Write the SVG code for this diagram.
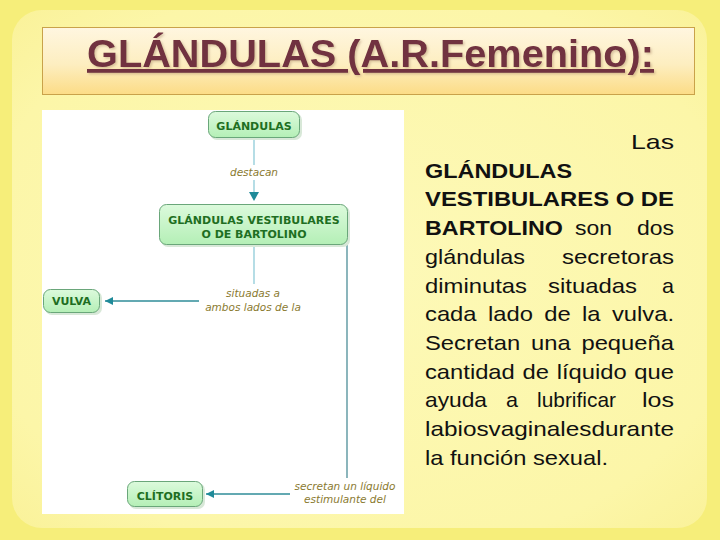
<svg xmlns="http://www.w3.org/2000/svg" width="720" height="540" viewBox="0 0 720 540">
  <defs>
    <linearGradient id="titleGrad" x1="0" y1="0" x2="0" y2="1">
      <stop offset="0" stop-color="#fff6e0"/>
      <stop offset="0.55" stop-color="#fdeec0"/>
      <stop offset="1" stop-color="#fcdc86"/>
    </linearGradient>
    <radialGradient id="panelGrad" cx="0.5" cy="0.5" r="0.7">
      <stop offset="0" stop-color="#fdf9b8"/>
      <stop offset="0.8" stop-color="#fcf6a8"/>
      <stop offset="1" stop-color="#faf29a"/>
    </radialGradient>
    <linearGradient id="nodeGrad" x1="0" y1="0" x2="0" y2="1">
      <stop offset="0" stop-color="#dcfadc"/>
      <stop offset="1" stop-color="#b4efb6"/>
    </linearGradient>
    <filter id="tshadow" x="-5%" y="-20%" width="110%" height="140%">
      <feDropShadow dx="1.5" dy="1.5" stdDeviation="0.8" flood-color="#b09070" flood-opacity="0.5"/>
    </filter>
    <marker id="arr" viewBox="0 0 10 10" refX="10" refY="5" markerWidth="8" markerHeight="8" markerUnits="userSpaceOnUse" orient="auto">
      <path d="M0,0 L10,5 L0,10 z" fill="#1f8a99"/>
    </marker>
    <style>
      .node rect { fill: url(#nodeGrad); stroke: #6aa67a; stroke-width: 1; }
      .node rect.shadow { fill: #d8e8d8; stroke: none; }
      .ntext { font-family: "DejaVu Sans", Verdana, sans-serif; font-weight: bold; font-size: 11px; fill: #1e6e22; text-anchor: middle; }
      .lbl { font-family: "DejaVu Sans", Verdana, sans-serif; font-style: italic; font-size: 10.5px; fill: #8a7a30; text-anchor: middle; }
      .lineLight { stroke: #8ecbd8; stroke-width: 1.3; fill: none; }
      .lineDark { stroke: #2f8c98; stroke-width: 1.3; fill: none; }
      .lineGray { stroke: #4e8e98; stroke-width: 1.3; fill: none; }
      .body { font-family: "Liberation Sans", Arial, sans-serif; font-size: 21px; fill: #111; }
      .b { font-weight: bold; }
    </style>
  </defs>

  <!-- background -->
  <rect x="0" y="0" width="720" height="540" fill="#f6ee7a"/>
  <rect x="12" y="10" width="695" height="518" rx="30" ry="30" fill="url(#panelGrad)"/>

  <!-- title -->
  <g id="title">
    <rect x="42.5" y="27.5" width="652" height="67" fill="url(#titleGrad)" stroke="#c9a24a" stroke-width="1"/>
    <text x="87" y="67" font-family="'Liberation Sans', Arial, sans-serif" font-weight="bold" font-size="38" fill="#71303f" text-decoration="underline" textLength="567" lengthAdjust="spacingAndGlyphs" filter="url(#tshadow)">GLÁNDULAS (A.R.Femenino):</text>
  </g>

  <!-- concept map panel -->
  <rect x="42" y="110" width="362" height="404" fill="#ffffff"/>

  <g id="connectors">
    <line class="lineLight" x1="254" y1="138" x2="254" y2="165"/>
    <line class="lineLight" x1="254" y1="180" x2="254" y2="192"/>
    <path d="M249,192 L259,192 L254,201 z" fill="#1f8a99"/>
    <line class="lineLight" x1="254" y1="245" x2="254" y2="284"/>
    <line class="lineDark" x1="199" y1="301" x2="105" y2="301" marker-end="url(#arr)"/>
    <line class="lineGray" x1="347" y1="245" x2="347" y2="478"/>
    <line class="lineDark" x1="290" y1="494" x2="206" y2="494" marker-end="url(#arr)"/>
    <text class="lbl" x="254" y="176">destacan</text>
    <text class="lbl" x="253" y="297">situadas a</text>
    <text class="lbl" x="253" y="311">ambos lados de la</text>
    <text class="lbl" x="345" y="490">secretan un líquido</text>
    <text class="lbl" x="345" y="503">estimulante del</text>
  </g>

  <g id="n-glandulas" class="node">
    <rect class="shadow" x="210" y="113" width="92" height="27" rx="7"/>
    <rect x="208.5" y="111.5" width="91" height="26" rx="7"/>
    <text class="ntext" x="254" y="130">GLÁNDULAS</text>
  </g>

  <g id="n-vestibulares" class="node">
    <rect class="shadow" x="161" y="206" width="189" height="41" rx="7"/>
    <rect x="159.5" y="204.5" width="188" height="40" rx="7"/>
    <text class="ntext" x="254" y="224">GLÁNDULAS VESTIBULARES</text>
    <text class="ntext" x="254" y="238">O DE BARTOLINO</text>
  </g>

  <g id="n-vulva" class="node">
    <rect class="shadow" x="45" y="291" width="57" height="24" rx="7"/>
    <rect x="43.5" y="289.5" width="56" height="23" rx="7"/>
    <text class="ntext" x="71.5" y="305">VULVA</text>
  </g>

  <g id="n-clitoris" class="node">
    <rect class="shadow" x="129" y="483" width="76" height="26" rx="7"/>
    <rect x="127.5" y="481.5" width="75" height="25" rx="7"/>
    <text class="ntext" x="165" y="500">CLÍTORIS</text>
  </g>

  <!-- right paragraph -->
  <g id="paragraph" class="body">
    <text x="631" y="149" textLength="43" lengthAdjust="spacingAndGlyphs">Las</text>
    <text class="b" x="425" y="177.7" textLength="147" lengthAdjust="spacingAndGlyphs">GLÁNDULAS</text>
    <text class="b" x="425" y="206.4" textLength="249" lengthAdjust="spacingAndGlyphs">VESTIBULARES O DE</text>
    <text class="b" x="425" y="235.1" textLength="138" lengthAdjust="spacingAndGlyphs">BARTOLINO</text>
    <text x="575" y="235.1" textLength="37" lengthAdjust="spacingAndGlyphs">son</text>
    <text x="637" y="235.1" textLength="37" lengthAdjust="spacingAndGlyphs">dos</text>
    <text x="425" y="263.8" textLength="100" lengthAdjust="spacingAndGlyphs">glándulas</text>
    <text x="562" y="263.8" textLength="112" lengthAdjust="spacingAndGlyphs">secretoras</text>
    <text x="425" y="292.5" textLength="102" lengthAdjust="spacingAndGlyphs">diminutas</text>
    <text x="548" y="292.5" textLength="89" lengthAdjust="spacingAndGlyphs">situadas</text>
    <text x="662" y="292.5" textLength="12" lengthAdjust="spacingAndGlyphs">a</text>
    <text x="425" y="321.2" word-spacing="4.2" textLength="249" lengthAdjust="spacingAndGlyphs">cada lado de la vulva.</text>
    <text x="425" y="349.9" word-spacing="3.7" textLength="249" lengthAdjust="spacingAndGlyphs">Secretan una pequeña</text>
    <text x="425" y="378.6" word-spacing="1" textLength="249" lengthAdjust="spacingAndGlyphs">cantidad de líquido que</text>
    <text x="425" y="407.3" textLength="62" lengthAdjust="spacingAndGlyphs">ayuda</text>
    <text x="506" y="407.3" textLength="12" lengthAdjust="spacingAndGlyphs">a</text>
    <text x="537" y="407.3" textLength="79" lengthAdjust="spacingAndGlyphs">lubrificar</text>
    <text x="642" y="407.3" textLength="32" lengthAdjust="spacingAndGlyphs">los</text>
    <text x="425" y="436" textLength="249" lengthAdjust="spacingAndGlyphs">labiosvaginalesdurante</text>
    <text x="425" y="464.7" textLength="183" lengthAdjust="spacingAndGlyphs">la función sexual.</text>
  </g>
</svg>
